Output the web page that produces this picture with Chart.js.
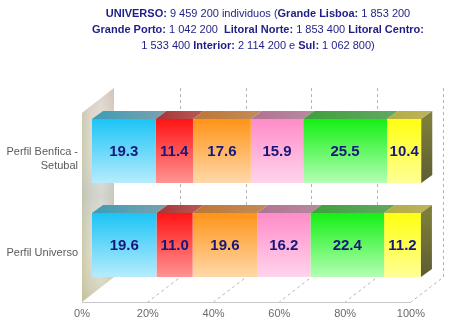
<!DOCTYPE html>
<html>
<head>
<meta charset="utf-8">
<script src="https://cdn.jsdelivr.net/npm/chart.js@4/dist/chart.umd.min.js"></script>
<style>
  html, body { margin: 0; padding: 0; background: #fff; }
  #wrap { position: relative; width: 450px; height: 324px; }
  #c { position: absolute; left: 0; top: 0; }
  #title {
    position: absolute; left: 58px; top: 5px; width: 400px;
    text-align: center; white-space: nowrap;
    font: 11px "Liberation Sans", Arial, sans-serif; line-height: 16px;
    color: #1e1e86;
  }
</style>
</head>
<body>
<div id="wrap">
  <canvas id="c" width="450" height="324"></canvas>
  <div id="title">
    <b>UNIVERSO:</b> 9 459 200 individuos (<b>Grande Lisboa:</b> 1 853 200<br>
    <b>Grande Porto:</b> 1 042 200 &nbsp;<b>Litoral Norte:</b> 1 853 400 <b>Litoral Centro:</b><br>
    1 533 400 <b>Interior:</b> 2 114 200 e <b>Sul:</b> 1 062 800)
  </div>
</div>
<script>
// Profiles (rows) and regional shares in percent
const categories = [['Perfil Benfica -', 'Setubal'], 'Perfil Universo'];
const regions = ['Grande Lisboa', 'Grande Porto', 'Litoral Norte', 'Litoral Centro', 'Interior', 'Sul'];
const perfilBenfica = [19.3, 11.4, 17.6, 15.9, 25.5, 10.4];
const perfilUniverso = [19.6, 11.0, 19.6, 16.2, 22.4, 11.2];
const tickLabels = ['0%', '20%', '40%', '60%', '80%', '100%'];

// Face colours per region: front (top -> bottom) and the lid on top (left -> right)
const frontTop    = ['#1cc4f6', '#ff1414', '#ff9418', '#ff8cc8', '#14f014', '#ffff10'];
const frontBottom = ['#b6ecfd', '#ff9494', '#ffd8aa', '#ffd4ec', '#b4ffb4', '#ffff96'];
const lidLeft     = ['#3c9cb8', '#a83434', '#bc7634', '#b07290', '#3ea03c', '#b4ac40'];
const lidRight    = ['#7aa2ac', '#b85a5a', '#c48c58', '#b88aa0', '#62a862', '#bcb45c'];
const sideTop = '#7e7e3a', sideBottom = '#5c5c34';

const BAR_FRACTION = 0.68;
const DEPTH = { dx: 11, dy: -8 };      // bar thickness
const ROOM = { frontDx: -10, frontDy: 10, backDx: 22, backDy: -15, wallTop: 88 };

function frontGradient(c, i) {
  const ch = c.chart;
  if (!ch.chartArea) return frontTop[i];
  const ys = ch.scales.y;
  const yc = ys.getPixelForValue(c.dataIndex);
  const half = (ys.height / categories.length) * BAR_FRACTION / 2;
  const g = ch.ctx.createLinearGradient(0, yc - half, 0, yc + half);
  g.addColorStop(0, frontTop[i]);
  g.addColorStop(1, frontBottom[i]);
  return g;
}

const datasets = regions.map((name, i) => ({
  label: name,
  data: [perfilBenfica[i], perfilUniverso[i]],
  backgroundColor: (c) => frontGradient(c, i),
  borderWidth: 0,
  categoryPercentage: BAR_FRACTION,
  barPercentage: 1
}));

// Walls, floor and the dashed guide lines behind the bars
const roomPlugin = {
  id: 'room',
  beforeDatasetsDraw(chart) {
    const { ctx, chartArea: a, scales: { x } } = chart;
    const floorF = a.bottom + ROOM.frontDy;
    const floorB = a.bottom + ROOM.backDy;
    const topB = ROOM.wallTop;
    const topF = topB + (floorF - floorB);
    const x0f = x.getPixelForValue(0) + ROOM.frontDx;
    const x0b = x.getPixelForValue(0) + ROOM.backDx;

    ctx.save();
    // left wall
    ctx.beginPath();
    ctx.moveTo(x0f, topF); ctx.lineTo(x0b, topB);
    ctx.lineTo(x0b, floorB); ctx.lineTo(x0f, floorF); ctx.closePath();
    const gw = ctx.createLinearGradient(x0f, 0, x0b, 0);
    gw.addColorStop(0, '#c6c49e');
    gw.addColorStop(0.25, '#d8d6c4');
    gw.addColorStop(0.6, '#e6e4dc');
    gw.addColorStop(1, '#cfccb2');
    ctx.fillStyle = gw; ctx.fill();
    ctx.clip();
    const gv = ctx.createLinearGradient(0, topB, 0, floorF);
    gv.addColorStop(0, 'rgba(215,190,190,0.55)');
    gv.addColorStop(0.25, 'rgba(230,230,225,0.2)');
    gv.addColorStop(0.5, 'rgba(190,196,200,0.45)');
    gv.addColorStop(0.75, 'rgba(230,228,215,0.2)');
    gv.addColorStop(1, 'rgba(195,190,150,0.6)');
    ctx.fillStyle = gv;
    ctx.fillRect(x0f, topB, x0b - x0f, floorF - topB);
    ctx.restore();

    ctx.save();
    ctx.strokeStyle = '#b4b4b4';
    ctx.lineWidth = 1;
    ctx.setLineDash([3, 3]);
    x.ticks.forEach(t => {
      if (t.value === 0) return;
      const xf = x.getPixelForValue(t.value) + ROOM.frontDx;
      const xb = x.getPixelForValue(t.value) + ROOM.backDx;
      ctx.beginPath();
      ctx.moveTo(Math.round(xb) + 0.5, topB);
      ctx.lineTo(Math.round(xb) + 0.5, floorB);
      ctx.lineTo(xf, floorF);
      ctx.stroke();
    });
    ctx.setLineDash([]);
    ctx.strokeStyle = '#c8c8c8';
    ctx.beginPath();
    ctx.moveTo(x0f, floorF + 0.5);
    ctx.lineTo(x.getPixelForValue(100) + ROOM.frontDx, floorF + 0.5);
    ctx.stroke();
    ctx.restore();
  },
  afterDatasetsDraw(chart) {
    const { ctx } = chart;
    const last = chart.data.datasets.length - 1;
    ctx.save();
    chart.data.datasets.forEach((ds, i) => {
      const meta = chart.getDatasetMeta(i);
      meta.data.forEach((el, j) => {
        const left = Math.min(el.base, el.x), right = Math.max(el.base, el.x);
        const top = el.y - el.height / 2, bottom = el.y + el.height / 2;
        // lid
        ctx.beginPath();
        ctx.moveTo(left, top); ctx.lineTo(right, top);
        ctx.lineTo(right + DEPTH.dx, top + DEPTH.dy);
        ctx.lineTo(left + DEPTH.dx, top + DEPTH.dy);
        ctx.closePath();
        const gl = ctx.createLinearGradient(left, 0, right + DEPTH.dx, 0);
        gl.addColorStop(0, lidLeft[i]); gl.addColorStop(1, lidRight[i]);
        ctx.fillStyle = gl;
        ctx.fill();
        // right end face
        if (i === last) {
          ctx.beginPath();
          ctx.moveTo(right, top); ctx.lineTo(right + DEPTH.dx, top + DEPTH.dy);
          ctx.lineTo(right + DEPTH.dx, bottom + DEPTH.dy); ctx.lineTo(right, bottom);
          ctx.closePath();
          const gs = ctx.createLinearGradient(0, top, 0, bottom);
          gs.addColorStop(0, sideTop); gs.addColorStop(1, sideBottom);
          ctx.fillStyle = gs; ctx.fill();
        }
        // value label
        ctx.fillStyle = '#18187a';
        ctx.font = 'bold 15px "Liberation Sans", Arial, sans-serif';
        ctx.textAlign = 'center';
        ctx.textBaseline = 'middle';
        ctx.fillText(ds.data[j].toFixed(1), (left + right) / 2, el.y + 0.5);
      });
    });
    ctx.restore();
  }
};

new Chart(document.getElementById('c'), {
  type: 'bar',
  data: { labels: categories, datasets },
  plugins: [roomPlugin],
  options: {
    indexAxis: 'y',
    responsive: false,
    devicePixelRatio: 1,
    animation: false,
    layout: { padding: { top: 104, right: 28, left: 0, bottom: 0 } },
    plugins: { legend: { display: false }, tooltip: { enabled: false }, title: { display: false } },
    scales: {
      x: {
        stacked: true, min: 0, max: 100,
        afterFit(s) { s.height = 32; },
        grid: { display: false, drawTicks: false },
        border: { display: false },
        ticks: {
          stepSize: 20, maxRotation: 0, autoSkip: false,
          labelOffset: -10, padding: 15,
          color: '#6a6a6a',
          font: { family: '"Liberation Sans", Arial, sans-serif', size: 11 },
          callback: (v) => tickLabels[Math.round(v / 20)]
        }
      },
      y: {
        stacked: true,
        afterFit(s) { s.width = 92; },
        grid: { display: false, drawTicks: false },
        border: { display: false },
        ticks: {
          labelOffset: 8, padding: 14,
          color: '#5a5a5a',
          font: { family: '"Liberation Sans", Arial, sans-serif', size: 11, lineHeight: 1.27 }
        }
      }
    }
  }
});
</script>
</body>
</html>
